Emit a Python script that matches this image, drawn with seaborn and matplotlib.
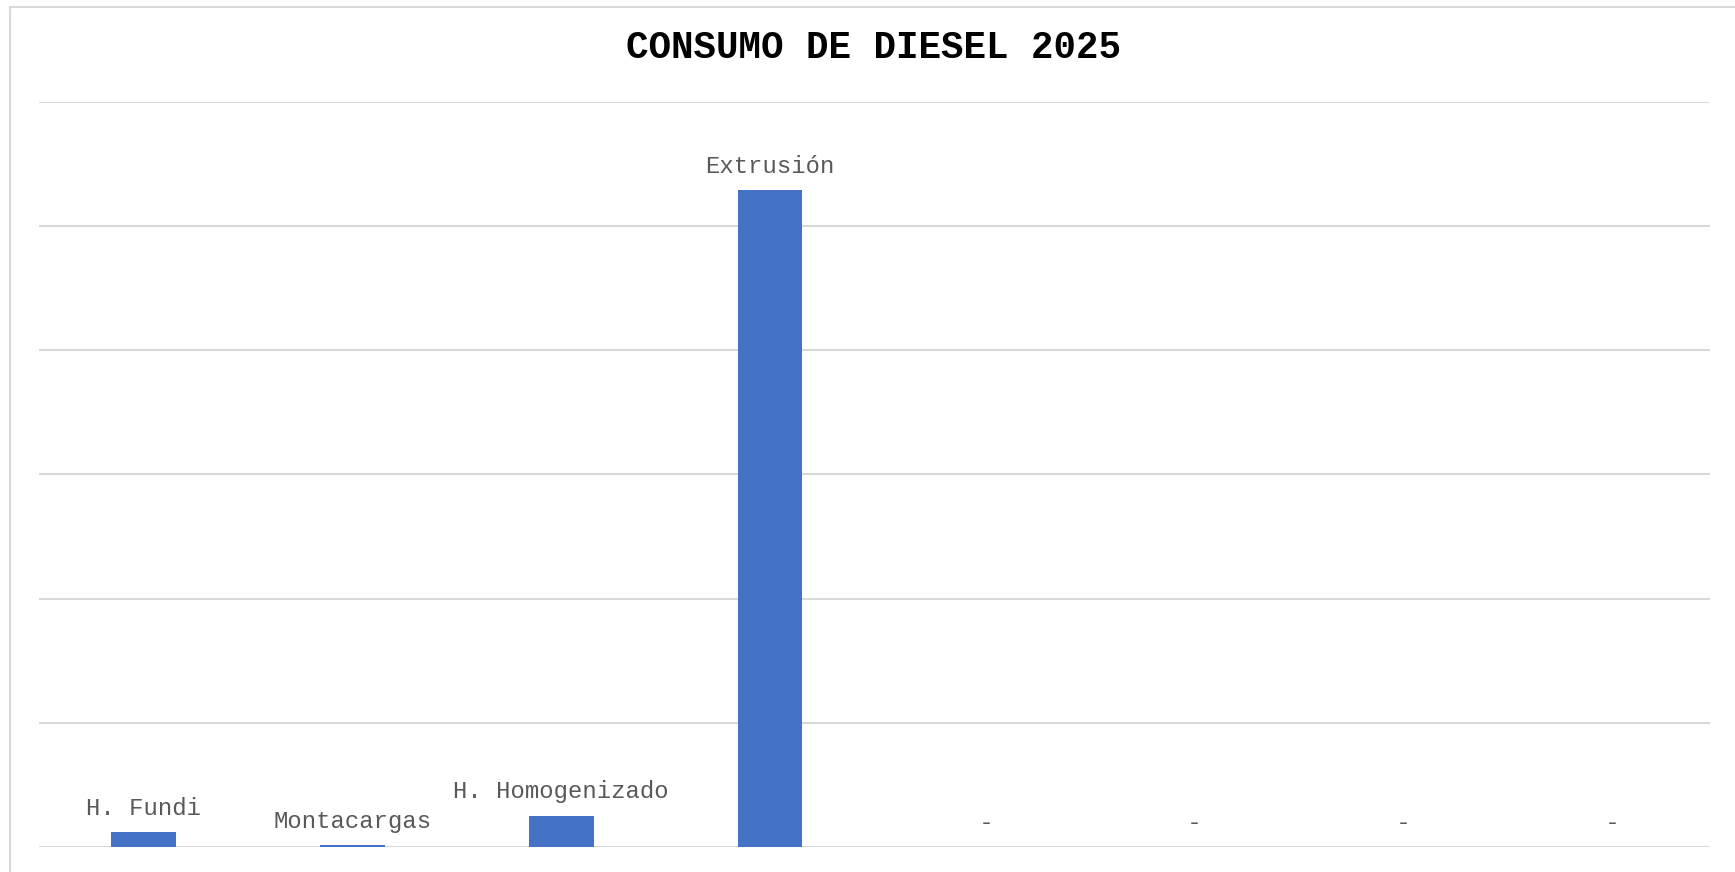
import matplotlib
matplotlib.use("Agg")
import matplotlib.pyplot as plt
import seaborn as sns
import pandas as pd
from matplotlib.patches import Rectangle

# ── Data ──────────────────────────────────────────────────────────────────────
areas = ["H. Fundi", "Montacargas", "H. Homogenizado", "Extrusión",
         "Area 5", "Area 6", "Area 7", "Area 8"]
consumo = [0.12, 0.013, 0.25, 5.29, 0, 0, 0, 0]
etiquetas = ["H. Fundi", "Montacargas", "H. Homogenizado", "Extrusión",
             " -", " -", " -", " -"]
y_ticks = [0, 1, 2, 3, 4, 5, 6]

df = pd.DataFrame({"area": areas, "consumo": consumo})

sns.set_theme(style="white")
plt.rcParams['font.family'] = ['Liberation Mono', 'DejaVu Sans Mono']

fig = plt.figure(figsize=(17.35, 8.72), dpi=100)
ax = fig.add_axes([0.0225, 0.0287, 0.9631, 0.8543])

sns.barplot(data=df, x="area", y="consumo", color="#4472C4", width=0.31,
            saturation=1, linewidth=0, ax=ax)

ax.set_ylim(y_ticks[0], y_ticks[-1])
ax.set_yticks(y_ticks)
ax.set_yticklabels([])
ax.set_xticklabels([])
ax.tick_params(length=0)
ax.set_xlabel("")
ax.set_ylabel("")
ax.yaxis.grid(True, color="#d9d9d9", linewidth=1.5)
ax.set_axisbelow(True)
for s in ax.spines.values():
    s.set_visible(False)

ax.bar_label(ax.containers[0], labels=etiquetas, padding=9, fontsize=17.2,
             color="#595959")

fig.text(0.5035, 1 - 47.6 / 872, "CONSUMO DE DIESEL 2025", ha="center",
         va="center", fontsize=27, fontweight="bold", color="black")

# chart area border (only left and top visible)
fig.patches.append(Rectangle((10 / 1735, -0.5), 2, 1.5 - 7 / 872,
                             transform=fig.transFigure, fill=False,
                             edgecolor="#d9d9d9", linewidth=1.5))

fig.savefig("out.png", dpi=100)
